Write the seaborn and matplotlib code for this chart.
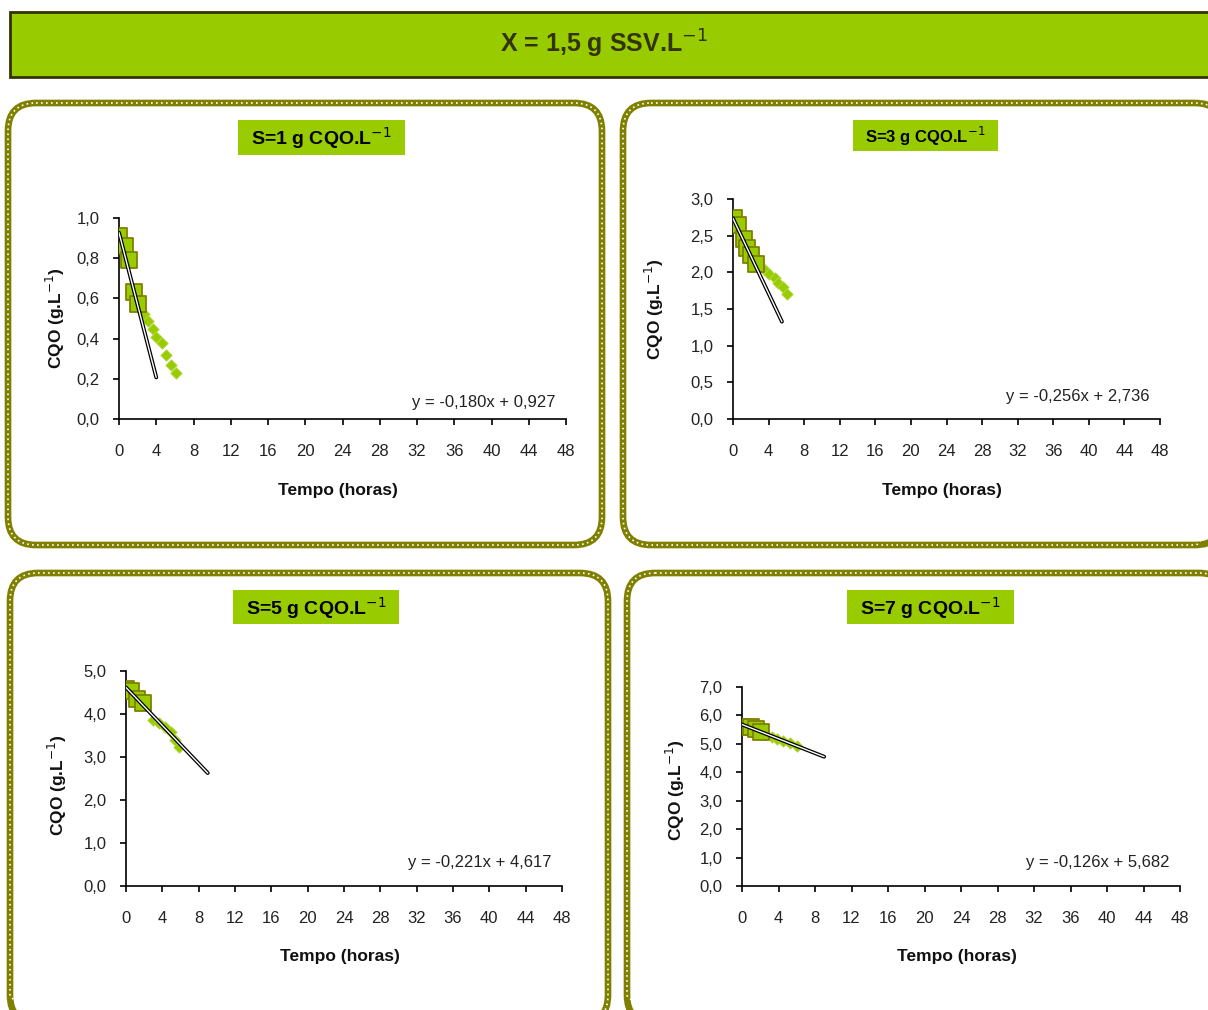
import numpy as np
import pandas as pd
import matplotlib
matplotlib.use("Agg")
import matplotlib.pyplot as plt
from matplotlib.patches import FancyBboxPatch, Rectangle
import seaborn as sns

# ---------------- data ----------------
panel_titles = ["S=1 g CQO.L$^{-1}$", "S=3 g CQO.L$^{-1}$", "S=5 g CQO.L$^{-1}$", "S=7 g CQO.L$^{-1}$"]
main_title = "X = 1,5 g SSV.L$^{-1}$"

sq_x1 = [0.0, 0.6, 1.1, 1.6, 2.0]
sq_y1 = [0.91, 0.86, 0.79, 0.63, 0.57]
dm_x1 = [2.7, 3.15, 3.6, 4.0, 4.6, 5.1, 5.6, 6.1]
dm_y1 = [0.52, 0.49, 0.45, 0.41, 0.38, 0.32, 0.27, 0.23]

sq_x2 = [0.1, 0.6, 1.2, 1.6, 2.0, 2.6]
sq_y2 = [2.74, 2.65, 2.46, 2.33, 2.24, 2.12]
dm_x2 = [3.6, 4.1, 4.7, 5.1, 5.6, 6.1]
dm_y2 = [2.03, 1.98, 1.92, 1.86, 1.80, 1.71]

sq_x3 = [0.0, 0.5, 1.2, 1.9]
sq_y3 = [4.57, 4.53, 4.36, 4.25]
dm_x3 = [3.0, 3.6, 4.3, 4.9, 5.4, 5.8]
dm_y3 = [3.86, 3.79, 3.70, 3.59, 3.40, 3.24]

sq_x4 = [0.0, 1.0, 1.5, 2.1]
sq_y4 = [5.60, 5.60, 5.51, 5.43]
dm_x4 = [3.25, 3.8, 4.5, 5.3, 6.0]
dm_y4 = [5.25, 5.16, 5.10, 5.02, 4.92]

fit_slope = [-0.180, -0.256, -0.221, -0.126]
fit_intercept = [0.927, 2.736, 4.617, 5.682]
fit_x_end = [4.0, 5.5, 9.0, 9.0]
equations = ["y = -0,180x + 0,927", "y = -0,256x + 2,736", "y = -0,221x + 4,617", "y = -0,126x + 5,682"]

y_max = [1.0, 3.0, 5.0, 7.0]
y_step = [0.2, 0.5, 1.0, 1.0]
x_ticks = list(range(0, 49, 4))

# ---------------- style ----------------
sns.set_theme(style="white")
plt.rcParams["font.family"] = ["Liberation Sans", "DejaVu Sans"]
GREEN = "#99CC00"
OLIVE = "#808000"

W, H = 1208, 1010
fig = plt.figure(figsize=(W / 100, H / 100), dpi=100)

# overlay in pixel coords
ov = fig.add_axes([0, 0, 1, 1])
ov.set_xlim(0, W)
ov.set_ylim(H, 0)
ov.axis("off")

ov.add_patch(Rectangle((10, 12), 1210, 65, facecolor=GREEN, edgecolor="#333300", lw=2))
ov.text(604, 44, main_title, ha="center", va="center", fontsize=18, fontweight="bold", color="#333300")

panel_boxes = [(8, 103, 594, 442), (623, 103, 600, 442), (10, 573, 598, 450), (627, 573, 600, 450)]
for (x0, y0, w, h) in panel_boxes:
    ov.add_patch(FancyBboxPatch((x0, y0), w, h, boxstyle="round,pad=0,rounding_size=28",
                                facecolor="white", edgecolor=OLIVE, lw=4.8))
    ov.add_patch(FancyBboxPatch((x0, y0), w, h, boxstyle="round,pad=0,rounding_size=28",
                                facecolor="none", edgecolor="white", lw=1.2, linestyle=(0, (1, 2.0))))

title_boxes = [(238, 120, 167, 35, 14), (853, 120, 145, 31, 12), (233, 590, 166, 34, 14), (847, 590, 167, 34, 14)]
for (x0, y0, w, h, fs), t in zip(title_boxes, panel_titles):
    ov.add_patch(Rectangle((x0, y0), w, h, facecolor=GREEN, edgecolor="none"))
    ov.text(x0 + w / 2, y0 + h / 2 + 1, t, ha="center", va="center", fontsize=fs, fontweight="bold", color="black")

# axes rectangles in pixels: left, right, top, bottom
ax_px = [(119, 566, 218, 419), (733, 1160, 199, 419), (126, 562, 671, 886), (742, 1180, 687, 886)]
ylab_coords = [(-0.143, 0.5), (-0.183, 0.5), (-0.158, 0.47), (-0.153, 0.48)]
xlab_px_y = [490, 490, 956, 956]
eq_px = [(556, 403), (1150, 397), (551, 862), (1169, 862)]

sq_data = [(sq_x1, sq_y1), (sq_x2, sq_y2), (sq_x3, sq_y3), (sq_x4, sq_y4)]
dm_data = [(dm_x1, dm_y1), (dm_x2, dm_y2), (dm_x3, dm_y3), (dm_x4, dm_y4)]

for i in range(4):
    l, r, t, b = ax_px[i]
    ax = fig.add_axes([l / W, (H - b) / H, (r - l) / W, (b - t) / H])
    ax.set_facecolor("none")

    dmx, dmy = dm_data[i]
    sns.scatterplot(x=dmx, y=dmy, marker="D", s=34, color=GREEN, edgecolor="#B5D94A",
                    linewidth=0.6, ax=ax, zorder=3)
    sqx, sqy = sq_data[i]
    sns.scatterplot(x=sqx, y=sqy, marker="s", s=130, color=GREEN, edgecolor=OLIVE,
                    linewidth=1.3, ax=ax, zorder=4)

    fx = np.array([0.0, fit_x_end[i]])
    fy = fit_slope[i] * fx + fit_intercept[i]
    fit_df = pd.DataFrame({"x": fx, "y": fy})
    sns.lineplot(data=fit_df, x="x", y="y", color="black", lw=2.8, ax=ax, zorder=5)
    sns.lineplot(data=fit_df, x="x", y="y", color="white", lw=1.0, ax=ax, zorder=6)

    ax.set_xlim(0, 48)
    ax.set_ylim(0, y_max[i])
    ax.set_xticks(x_ticks)
    ax.set_xticklabels([str(v) for v in x_ticks])
    yt = np.round(np.arange(0, y_max[i] + 1e-9, y_step[i]), 2)
    ax.set_yticks(yt)
    ax.set_yticklabels([f"{v:.1f}".replace(".", ",") for v in yt])
    for sp in ["top", "right"]:
        ax.spines[sp].set_visible(False)
    for sp in ["left", "bottom"]:
        ax.spines[sp].set_color("black")
        ax.spines[sp].set_linewidth(1.2)
    ax.tick_params(axis="both", direction="out", length=4, width=1.2, color="black",
                   labelsize=12, labelcolor="#222222", bottom=True, left=True)
    ax.tick_params(axis="x", pad=14)
    ax.tick_params(axis="y", pad=10)

    ax.set_xlabel("Tempo (horas)", fontsize=12.5, fontweight="bold", color="#111111")
    ax.xaxis.label.set_va("center")
    ax.xaxis.set_label_coords(0.49, (b - xlab_px_y[i]) / (b - t))
    ax.set_ylabel("CQO (g.L$^{-1}$)", fontsize=12.5, fontweight="bold", color="#111111")
    ax.yaxis.label.set_va("center")
    ax.yaxis.set_label_coords(*ylab_coords[i])

    ex, ey = eq_px[i]
    ax.text((ex - l) / (r - l), (b - ey) / (b - t), equations[i], transform=ax.transAxes,
            ha="right", va="center", fontsize=12, color="#222222")

fig.savefig("out.png", dpi=100)
